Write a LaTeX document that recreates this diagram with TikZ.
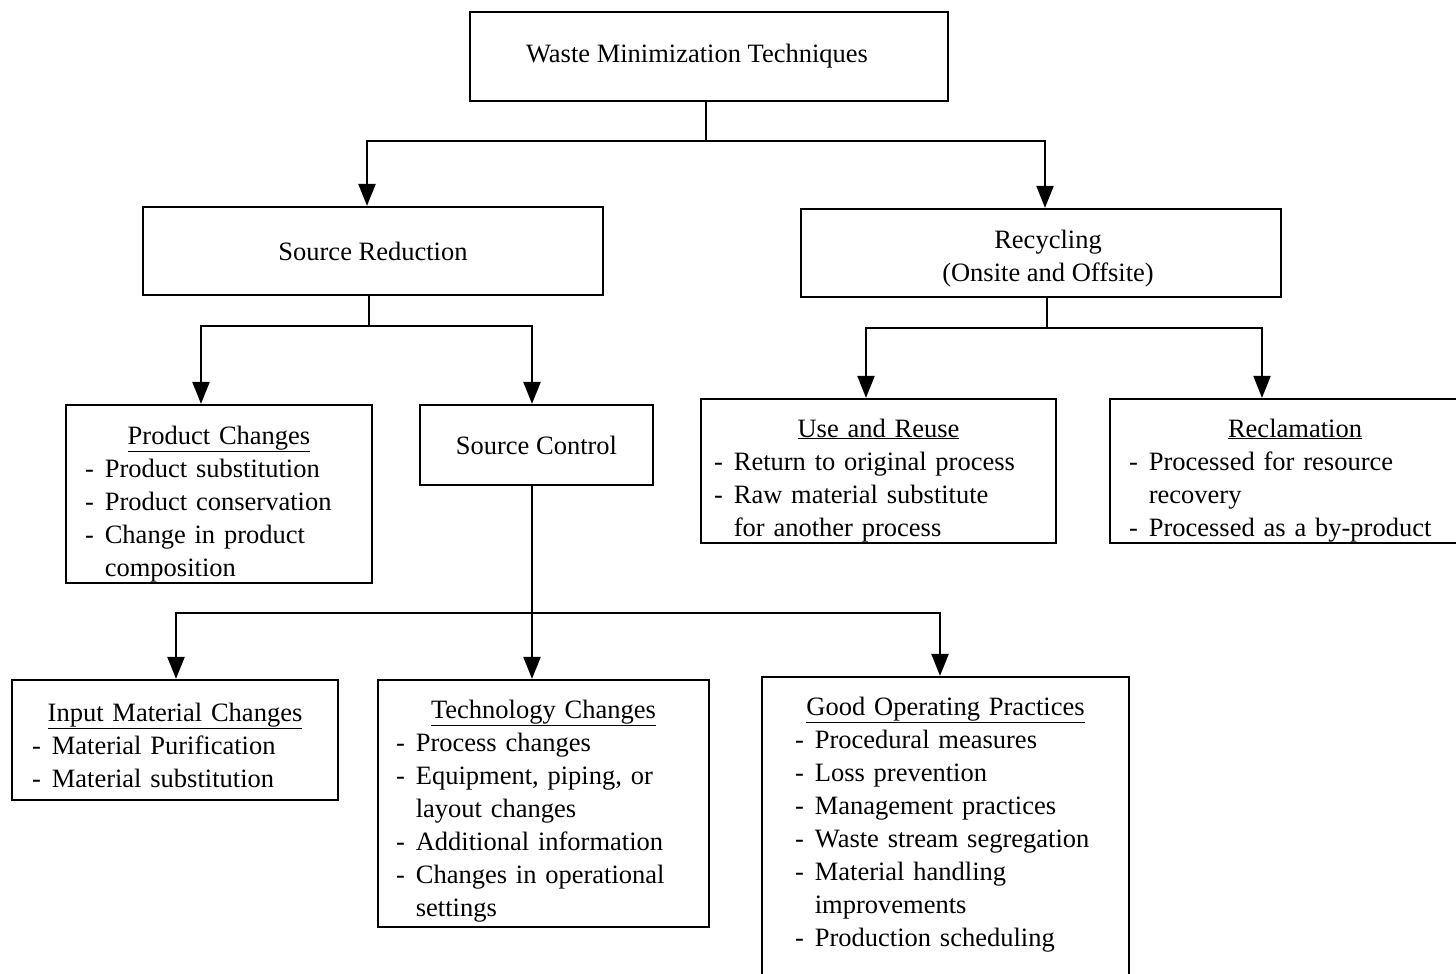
\documentclass[tikz,border=0pt]{standalone}
\usepackage{fontspec}
\setmainfont{Liberation Serif}
\usetikzlibrary{arrows.meta,calc}
\newcommand\btitle[2]{\multicolumn{2}{@{}l@{}}{\makebox[#1][c]{\underline{#2}}}}
\begin{document}
\begin{tikzpicture}[x=1pt,y=-1pt,
  every node/.style={font=\fontsize{26.5}{33}\selectfont},
  plainbox/.style={draw,line width=2.2pt,inner sep=0pt,align=center},
  listbox/.style={draw,line width=2.2pt,inner ysep=0pt,align=left},
  arr/.style={line width=2.2pt,-{Triangle[length=22pt,width=17pt]}},
  conn/.style={line width=2.2pt}]
\clip (0,0) rectangle (1456,974);
\fill[white] (0,0) rectangle (1456,974);
% top level
\node[plainbox,minimum width=478pt,minimum height=89pt] (wmt) at (709,56.5) {\hspace*{-24pt}Waste Minimization Techniques};
\node[plainbox,minimum width=460pt,minimum height=88pt] (sr) at (373,251) {Source Reduction};
\node[plainbox,minimum width=480pt,minimum height=88pt] (rec) at (1041,253) {\rule{0pt}{30pt}\hspace*{14pt}Recycling\\\hspace*{14pt}(Onsite and Offsite)};
% second level
\node[listbox,inner xsep=19pt,text width=268pt,text height=39pt,text depth=139pt] (pc) at (219,494) {%
\begin{tabular}[t]{@{}l@{\hspace{11pt}}l@{}}
\btitle{268pt}{Product Changes}\\
-& Product substitution\\
-& Product conservation\\
-& Change in product\\
 & composition
\end{tabular}};
\node[plainbox,minimum width=233pt,minimum height=80pt] (sc) at (536.5,445) {Source Control};
\node[listbox,inner xsep=13pt,text width=329pt,text height=38pt,text depth=106pt] (ur) at (878.5,471) {%
\begin{tabular}[t]{@{}l@{\hspace{11pt}}l@{}}
\btitle{329pt}{Use and Reuse}\\
-& Return to original process\\
-& Raw material substitute\\
 & for another process
\end{tabular}};
\node[listbox,inner xsep=19pt,text width=332pt,text height=38pt,text depth=106pt] (rcl) at (1295,471) {%
\begin{tabular}[t]{@{}l@{\hspace{11pt}}l@{}}
\btitle{332pt}{Reclamation}\\
-& Processed for resource\\
 & recovery\\
-& Processed as a by-product
\end{tabular}};
% third level
\node[listbox,inner xsep=20pt,text width=286pt,text height=41pt,text depth=79pt] (imc) at (175,740) {%
\begin{tabular}[t]{@{}l@{\hspace{11pt}}l@{}}
\btitle{286pt}{Input Material Changes}\\
-& Material Purification\\
-& Material substitution
\end{tabular}};
\node[listbox,inner xsep=18pt,text width=295pt,text height=38pt,text depth=209pt] (tc) at (543.5,803.5) {%
\begin{tabular}[t]{@{}l@{\hspace{11pt}}l@{}}
\btitle{295pt}{Technology Changes}\\
-& Process changes\\
-& Equipment, piping, or\\
 & layout changes\\
-& Additional information\\
-& Changes in operational\\
 & settings
\end{tabular}};
\node[listbox,inner xsep=33pt,text width=301pt,text height=38pt,text depth=262pt] (gop) at (945.5,827) {%
\begin{tabular}[t]{@{}l@{\hspace{11pt}}l@{}}
\btitle{301pt}{Good Operating Practices}\\
-& Procedural measures\\
-& Loss prevention\\
-& Management practices\\
-& Waste stream segregation\\
-& Material handling\\
 & improvements\\
-& Production scheduling
\end{tabular}};
% connectors
\coordinate (j1) at (706,141);
\draw[conn] ([xshift=-3pt]wmt.south) -- (j1);
\draw[arr] (j1) -| ([xshift=-6pt]sr.north);
\draw[arr] (j1) -| ([xshift=4pt]rec.north);
\coordinate (j2) at (369,326);
\draw[conn] ([xshift=-4pt]sr.south) -- (j2);
\draw[arr] (j2) -| ([xshift=-18pt]pc.north);
\draw[arr] (j2) -| ([xshift=-4.5pt]sc.north);
\coordinate (j3) at (1047,328);
\draw[conn] ([xshift=6pt]rec.south) -- (j3);
\draw[arr] (j3) -| ([xshift=-12.5pt]ur.north);
\draw[arr] (j3) -| ([xshift=-33pt]rcl.north);
\coordinate (j4) at (532,613);
\draw[arr] ([xshift=-4.5pt]sc.south) -- ([xshift=-11.5pt]tc.north);
\draw[arr] (j4) -| ([xshift=1pt]imc.north);
\draw[arr] (j4) -| ([xshift=-5.5pt]gop.north);
\end{tikzpicture}
\end{document}
